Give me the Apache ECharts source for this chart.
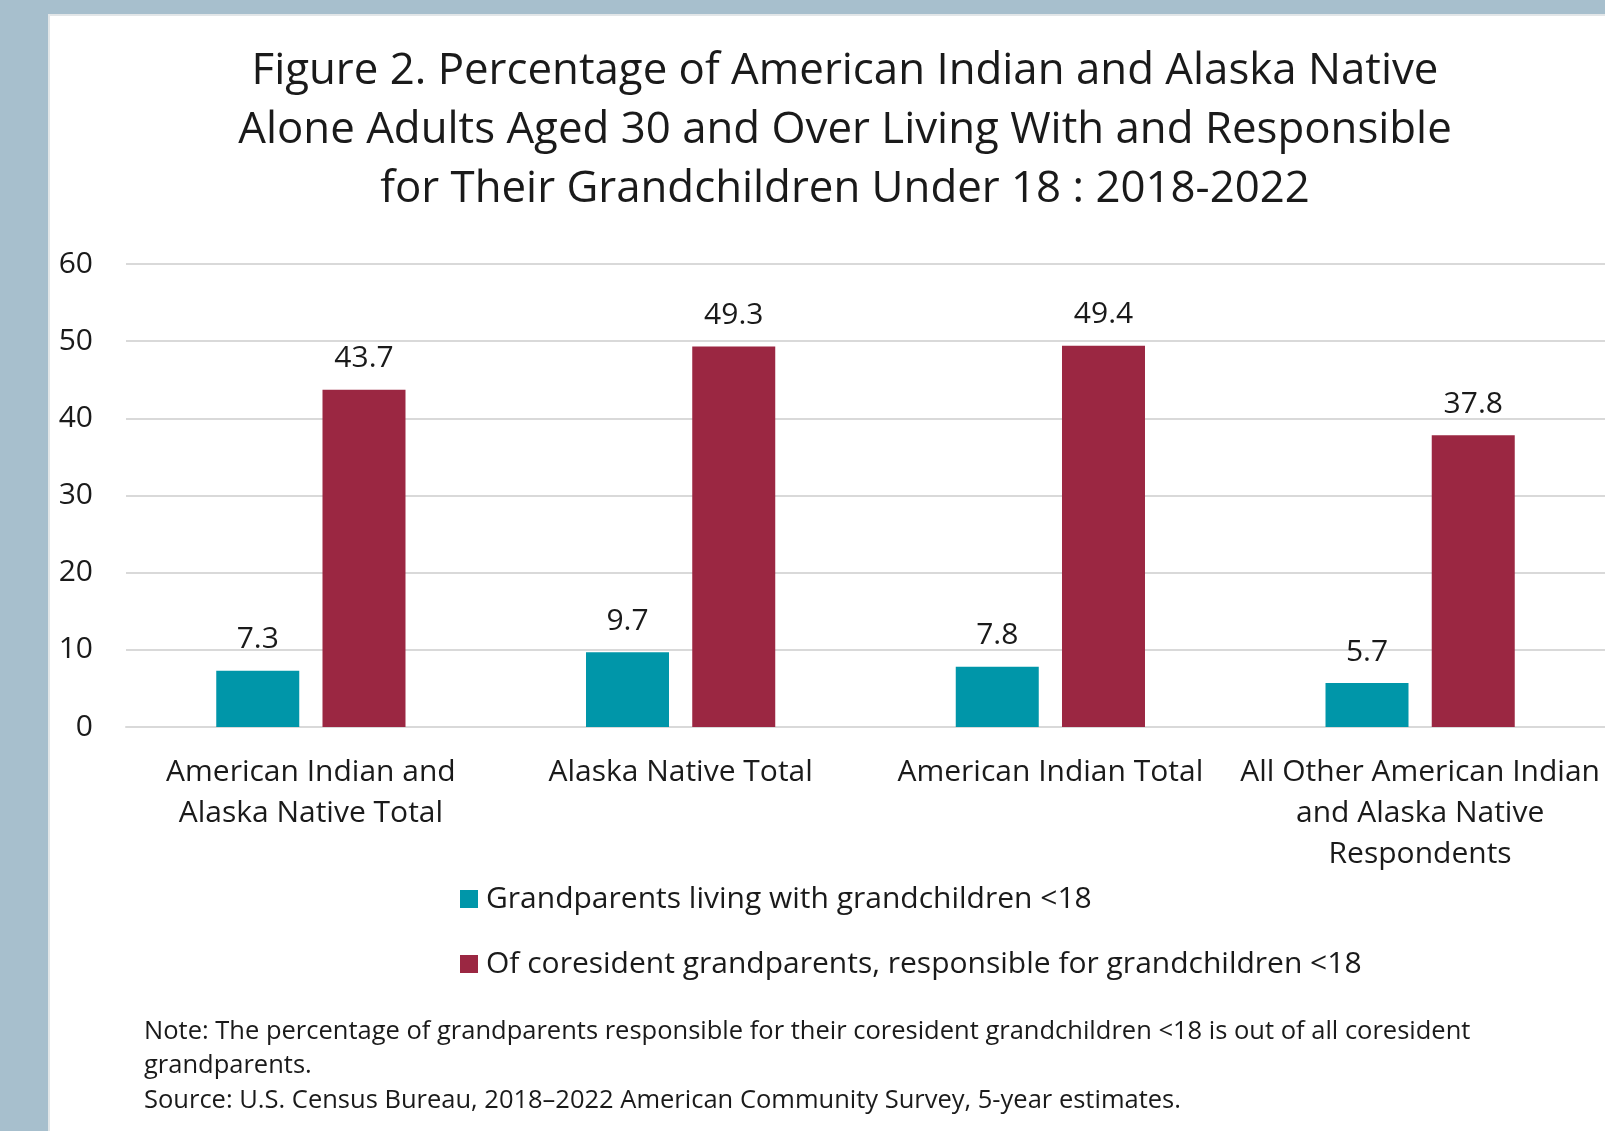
<!DOCTYPE html>
<html>
<head>
<meta charset="utf-8">
<script src="https://cdn.jsdelivr.net/npm/echarts@6/dist/echarts.min.js"></script>
<style>
html,body{margin:0;padding:0;background:#fff;}
#chart{width:1605px;height:1131px;}
</style>
</head>
<body>
<div id="chart"></div>
<script>
const categories = [
  "American Indian and\nAlaska Native Total",
  "Alaska Native Total",
  "American Indian Total",
  "All Other American Indian\nand Alaska Native\nRespondents"
];
const seriesNames = [
  "Grandparents living with grandchildren <18",
  "Of coresident grandparents, responsible for grandchildren <18"
];
const livingWith = [7.3, 9.7, 7.8, 5.7];
const responsibleFor = [43.7, 49.3, 49.4, 37.8];
const yTicks = { min: 0, max: 60, interval: 10 };
const titleLines = [
  "Figure 2. Percentage of American Indian and Alaska Native",
  "Alone Adults Aged 30 and Over Living With and Responsible",
  "for Their Grandchildren Under 18 : 2018-2022"
];
const noteLines = [
  "Note: The percentage of grandparents responsible for their coresident grandchildren <18 is out of all coresident",
  "grandparents.",
  "Source: U.S. Census Bureau, 2018\u20132022 American Community Survey, 5-year estimates."
];

const FONT = '"Open Sans", Lato, sans-serif';
const TXT = '#1a1a1a';
const GRID = '#d9d9d9';
const BORDER = '#a7bfcd';
const TEAL = '#0096a9';
const MAROON = '#9b2742';
const LBL = 30;

const chart = echarts.init(document.getElementById('chart'), null, {renderer: 'canvas'});
chart.setOption({
  backgroundColor: '#ffffff',
  animation: false,
  textStyle: { fontFamily: FONT, color: TXT },
  grid: { left: 126, right: 0, top: 264, bottom: 404, containLabel: false },
  xAxis: {
    type: 'category',
    data: categories,
    axisLine: { show: true, lineStyle: { color: GRID, width: 2 } },
    axisTick: { show: false },
    axisLabel: { fontFamily: FONT, fontSize: LBL, color: TXT, lineHeight: 41, margin: 25, interval: 0 }
  },
  yAxis: {
    type: 'value',
    min: yTicks.min, max: yTicks.max, interval: yTicks.interval,
    axisLine: { show: false },
    axisTick: { show: false },
    splitLine: { lineStyle: { color: GRID, width: 2 } },
    axisLabel: { fontFamily: FONT, fontSize: LBL, color: TXT, margin: 33 }
  },
  legend: {
    orient: 'vertical',
    left: 455,
    top: 879,
    itemWidth: 18,
    itemHeight: 18,
    itemGap: 35,
    icon: 'rect',
    textStyle: { fontFamily: FONT, fontSize: LBL, color: TXT, padding: [0,0,0,3] },
    data: seriesNames
  },
  series: [
    {
      name: seriesNames[0], type: 'bar', data: livingWith,
      barWidth: 83, barGap: '28%',
      itemStyle: { color: TEAL },
      label: { show: true, position: 'top', distance: 16, fontFamily: FONT, fontSize: LBL, color: TXT, formatter: p => p.value.toFixed(1) }
    },
    {
      name: seriesNames[1], type: 'bar', data: responsibleFor,
      barWidth: 83, barGap: '28%',
      itemStyle: { color: MAROON },
      label: { show: true, position: 'top', distance: 16, fontFamily: FONT, fontSize: LBL, color: TXT, formatter: p => p.value.toFixed(1) }
    }
  ],
  graphic: [
    { type: 'rect', left: 0, top: 0, shape: { width: 50, height: 1131 }, style: { fill: BORDER }, silent: true, z: 100 },
    { type: 'rect', left: 0, top: 0, shape: { width: 1605, height: 14 }, style: { fill: BORDER }, silent: true, z: 100 },
    { type: 'rect', left: 48, top: 14, shape: { width: 2, height: 1117 }, style: { fill: '#e2e6e8' }, silent: true, z: 100 },
    { type: 'rect', left: 50, top: 14, shape: { width: 1555, height: 2 }, style: { fill: '#e2e6e8' }, silent: true, z: 100 },
    {
      type: 'text', x: 845, y: 42, z: 100,
      style: { text: titleLines.join('\n'), textAlign: 'center', textVerticalAlign: 'top', font: '43.8px ' + FONT, lineHeight: 59, fill: TXT }
    },
    {
      type: 'text', x: 144, y: 1014, z: 100,
      style: { text: noteLines.join('\n'), textAlign: 'left', textVerticalAlign: 'top', font: '25.5px ' + FONT, lineHeight: 34.5, fill: TXT }
    }
  ]
});
</script>
</body>
</html>
